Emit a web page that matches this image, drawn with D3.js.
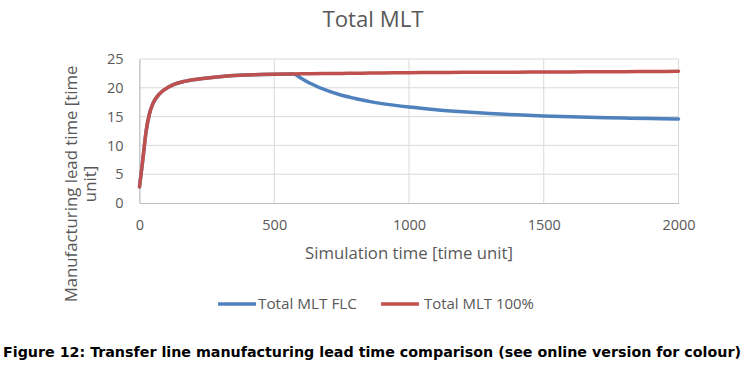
<!DOCTYPE html>
<html>
<head>
<meta charset="utf-8">
<script src="https://cdn.jsdelivr.net/npm/d3@7"></script>
<style>
  body { margin: 0; background: #fff; }
  svg { display: block; }
  text { font-family: "Open Sans", Lato, sans-serif; fill: #595959; }
</style>
</head>
<body>
<div class="chart"></div>
<script>
// data
const simTime = [0, 12, 25, 37, 50, 75, 110, 160, 235, 335, 450, 571, 600, 633, 700, 750, 800, 856, 900, 1000, 1100, 1200, 1300, 1400, 1500, 1600, 1700, 1800, 1900, 2000];
const mltFull = [2.8, 7.4, 12.6, 15.5, 17.3, 19.0, 20.2, 21.05, 21.6, 22.1, 22.3, 22.4, 22.42, 22.44, 22.48, 22.5, 22.52, 22.55, 22.57, 22.62, 22.65, 22.68, 22.7, 22.72, 22.74, 22.76, 22.78, 22.8, 22.83, 22.86];
const mltFlc = [2.8, 7.4, 12.6, 15.5, 17.3, 19.0, 20.2, 21.05, 21.6, 22.1, 22.3, 22.4, 21.65, 20.8, 19.45, 18.7, 18.15, 17.6, 17.25, 16.65, 16.2, 15.85, 15.55, 15.3, 15.12, 14.97, 14.85, 14.74, 14.66, 14.6];
const seriesNames = ["Total MLT FLC", "Total MLT 100%"];
const seriesColors = ["#4F81BD", "#C0504D"];
const xTicks = [0, 500, 1000, 1500, 2000];
const yTicks = [0, 5, 10, 15, 20, 25];

const svg_width = 743, svg_height = 366;
const margin = { top: 59, right: 64.5, bottom: 163, left: 139.5 };
const chart_width = svg_width - margin.left - margin.right;
const chart_height = svg_height - margin.top - margin.bottom;

// shrink/grow font so a text gets the width measured on the picture
function fitText(sel, width, base) {
    sel.style("font-size", base + "px");
    const w = sel.node().getComputedTextLength();
    sel.style("font-size", (base * width / w).toFixed(2) + "px");
}

const svg = d3.select(".chart").append("svg")
    .attr("width", svg_width).attr("height", svg_height);
const g = svg.append("g").attr("transform", `translate(${margin.left},${margin.top})`);

const xScale = d3.scaleLinear([0, 2000], [0, chart_width]);
const yScale = d3.scaleLinear([0, 25], [chart_height, 0]);

// grid
g.append("g").selectAll("line").data(yTicks.slice(1)).join("line")
    .attr("x1", 0).attr("x2", chart_width)
    .attr("y1", d => yScale(d)).attr("y2", d => yScale(d))
    .attr("stroke", "#D9D9D9");
g.append("g").selectAll("line").data(xTicks).join("line")
    .attr("x1", d => xScale(d)).attr("x2", d => xScale(d))
    .attr("y1", 0).attr("y2", chart_height)
    .attr("stroke", "#D9D9D9");

// axes
const xAxis = g.append("g").attr("transform", `translate(0,${chart_height})`)
    .call(d3.axisBottom(xScale).tickValues(xTicks).tickFormat(d3.format("d")).tickSize(0).tickPadding(17));
const yAxis = g.append("g")
    .call(d3.axisLeft(yScale).tickValues(yTicks).tickFormat(d3.format("d")).tickSize(0).tickPadding(16));
xAxis.select(".domain").attr("stroke", "#BFBFBF");
yAxis.select(".domain").attr("stroke", "#BFBFBF");
svg.selectAll(".tick text").style("font-size", "14.5px").style("fill", "#595959")
    .style("font-family", "'Open Sans', sans-serif");

// lines
const series = [mltFlc, mltFull];
const line = d3.line()
    .x((d, i) => xScale(simTime[i]))
    .y(d => yScale(d))
    .curve(d3.curveMonotoneX);
g.selectAll(".series").data([0, 1]).join("path")
    .attr("class", "series")
    .attr("d", i => line(series[i]))
    .attr("fill", "none")
    .attr("stroke", i => seriesColors[i])
    .attr("stroke-width", 3.5)
    .attr("stroke-linejoin", "round")
    .attr("stroke-linecap", "round");

// title
const title = svg.append("text").attr("x", 373).attr("y", 27)
    .attr("text-anchor", "middle").text("Total MLT");
fitText(title, 101, 22);

// axis titles
const xTitle = svg.append("text").attr("x", 409).attr("y", 259)
    .attr("text-anchor", "middle").text("Simulation time [time unit]");
fitText(xTitle, 208, 16);
const yTitle = svg.append("text").attr("transform", "translate(77,184) rotate(-90)")
    .attr("text-anchor", "middle");
const yLine1 = yTitle.append("tspan").attr("x", 0).attr("y", 0).text("Manufacturing lead time [time");
yTitle.append("tspan").attr("x", 0).attr("y", 19).text("unit]");
yTitle.style("font-size", "16px");
const yw = yLine1.node().getComputedTextLength();
yTitle.style("font-size", (16 * 237 / yw).toFixed(2) + "px");

// legend
const legendX = [218, 381];
const legendW = [99, 110];
const legend = svg.append("g").selectAll("g").data(seriesNames).join("g")
    .attr("transform", (d, i) => `translate(${legendX[i]},304)`);
legend.append("line").attr("x1", 0).attr("x2", 38)
    .attr("stroke", (d, i) => seriesColors[i]).attr("stroke-width", 3.5);
legend.append("text").attr("x", (d, i) => i ? 43 : 40).attr("y", 5).text(d => d)
    .each(function(d, i) { fitText(d3.select(this), legendW[i], 14); });

// caption
svg.append("text").attr("x", 3).attr("y", 357)
    .attr("textLength", 738).attr("lengthAdjust", "spacingAndGlyphs")
    .style("font-family", "'DejaVu Sans Condensed', 'DejaVu Sans', sans-serif")
    .style("font-weight", "bold").style("font-size", "14px").style("fill", "#000")
    .text("Figure 12: Transfer line manufacturing lead time comparison (see online version for colour)");
</script>
</body>
</html>
